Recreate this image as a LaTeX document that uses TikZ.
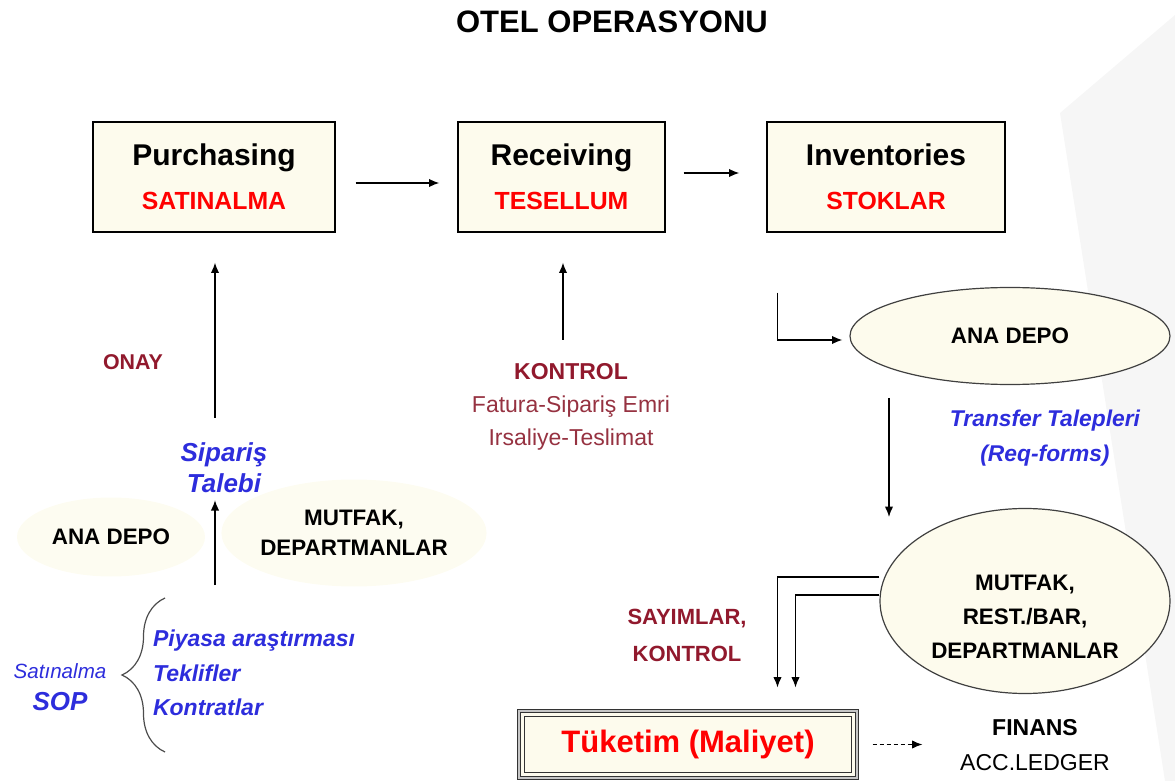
\documentclass[tikz,border=0pt]{standalone}
\usepackage{fontspec}
\setmainfont{Liberation Sans}
\usetikzlibrary{arrows.meta,shapes.geometric,decorations.pathreplacing}
\definecolor{cream}{RGB}{253,251,237}
\definecolor{faint}{RGB}{253,252,241}
\definecolor{blu}{RGB}{45,45,220}
\definecolor{maroon}{RGB}{145,25,45}
\definecolor{rose}{RGB}{150,50,65}
\begin{document}
\begin{tikzpicture}[x=0.5pt,y=-0.5pt,
    arr/.style={-{Latex[length=5.2pt,width=4.2pt]},line width=0.7pt},
    stage/.style={draw,line width=0.6pt,fill=cream,minimum height=55pt,align=center,
      font=\fontsize{15}{22}\selectfont\bfseries},
    depot/.style={ellipse,draw=black!75,line width=0.6pt,fill=cream,inner sep=0pt},
    ghost/.style={ellipse,fill=faint,inner sep=0pt,align=center,
      font=\fontsize{11.2}{15}\selectfont\bfseries},
    caps/.style={align=center,font=\fontsize{11.2}{17}\selectfont\bfseries},
    note/.style={text=blu,align=center,font=\fontsize{11.4}{17.5}\selectfont\bfseries\itshape},
    warn/.style={text=maroon,align=center,font=\fontsize{11}{18.5}\selectfont\bfseries},
    sopbrace/.style={decorate,decoration={brace,amplitude=21.5pt},line width=0.6pt,draw=black!70}]
  \useasboundingbox (0,0) rectangle (1175,781);
  % slide background
  \fill[gray!7] (1175,15) -- (1060,113) -- (1165,781) -- (1175,781) -- cycle;

  \node[font=\fontsize{15.5}{18}\selectfont\bfseries] (title) at (612,22) {OTEL OPERASYONU};

  % main flow
  \node[stage,minimum width=121pt] (pur) at (214,177)
    {Purchasing\\{\color{red}\fontsize{12.4}{22}\selectfont SATINALMA}};
  \node[stage,minimum width=103.5pt] (rec) at (561.5,177)
    {Receiving\\{\color{red}\fontsize{12.4}{22}\selectfont TESELLUM}};
  \node[stage,minimum width=119pt] (inv) at (886,177)
    {Inventories\\{\color{red}\fontsize{12.4}{22}\selectfont STOKLAR}};
  \draw[arr,shorten <=10pt,shorten >=9pt] ([yshift=-3pt]pur.east) -- ([yshift=-3pt]rec.west);
  \draw[arr,shorten <=9pt,shorten >=13.5pt] ([yshift=2pt]rec.east) -- ([yshift=2pt]inv.west);

  % purchasing side
  \node[warn,font=\fontsize{10.7}{13}\selectfont\bfseries] (onay) at (133,362) {ONAY};
  \node[note,font=\fontsize{13}{15.5}\selectfont\bfseries\itshape] (sip) at (224,468) {Sipariş\\Talebi};
  \coordinate (ordr) at (215,418);
  \draw[arr,shorten >=15pt] (ordr) -- (ordr |- pur.south);
  \node[ghost,minimum width=94pt,minimum height=39.5pt] (anal) at (111,537) {ANA DEPO};
  \node[ghost,minimum width=129pt,minimum height=53.5pt] (mutl) at (354,533) {MUTFAK,\\DEPARTMANLAR};
  \coordinate (sopr) at (215,585);
  \draw[arr] (sopr) -- (sopr |- sip.south);

  \node[text=blu,align=center,font=\fontsize{13}{16}\selectfont\bfseries\itshape] (sop) at (60,687)
    {{\fontsize{10.3}{16}\selectfont\mdseries Satınalma}\\SOP};
  \draw[sopbrace] (165,752) -- (165,598);
  \node[note,anchor=west,align=left,font=\fontsize{11.5}{17.25}\selectfont\bfseries\itshape] (piy) at (146,673)
    {Piyasa araştırması\\Teklifler\\Kontratlar};

  % receiving side
  \node[align=center,text=rose,font=\fontsize{11.5}{16.5}\selectfont] (kon) at (571,407)
    {{\color{maroon}\bfseries KONTROL}\\Fatura-Sipariş Emri\\Irsaliye-Teslimat};
  \coordinate (ctrl) at (563,340);
  \draw[arr,shorten >=15pt] (ctrl) -- (ctrl |- rec.south);

  % inventories side
  \node[depot,minimum width=160pt,minimum height=48.5pt,caps] (anad) at (1010,336) {ANA DEPO};
  \draw[arr,shorten <=30pt,shorten >=3.5pt] ([xshift=5.5pt]inv.south west) |- ([yshift=-2pt]anad.west);
  \node[note] (trf) at (1045,438) {Transfer Talepleri\\(Req-forms)};
  \coordinate (trq) at (889,398);
  \draw[arr] (trq) -- ++(0,119);
  \node[depot,minimum width=145pt,minimum height=92.5pt] (mutr) at (1025,601) {};
  \node[caps] (mutrtx) at ([yshift=-8pt]mutr.center) {MUTFAK,\\REST./BAR,\\DEPARTMANLAR};

  % consumption
  \node[draw=black!80,double=gray!45,double distance=1.2pt,line width=0.5pt,fill=cream,
    minimum width=169pt,minimum height=33.5pt,text=red,font=\fontsize{15.5}{18}\selectfont\bfseries]
    (tuk) at (688,744.5) {Tüketim (Maliyet)};
  \draw[line width=0.5pt,black!80] ([shift={(3.2pt,-3.2pt)}]tuk.north west) rectangle ([shift={(-3.2pt,3.2pt)}]tuk.south east);
  \node[warn] (say) at (687,635) {SAYIMLAR,\\KONTROL};
  \draw[arr,shorten >=11.5pt] ([yshift=12pt]mutr.west) -| ([xshift=129.5pt]tuk.north west);
  \draw[arr,shorten >=11.5pt] ([yshift=3pt]mutr.west) -| ([xshift=138.5pt]tuk.north west);
  \node[align=center,font=\fontsize{11.5}{17.5}\selectfont] (fin) at (1035,745)
    {{\bfseries FINANS}\\ACC.LEDGER};
  \draw[arr,dash pattern=on 2pt off 1.5pt,shorten <=7.5pt] (tuk.east) -- ++(32.5pt,0);
\end{tikzpicture}
\end{document}
